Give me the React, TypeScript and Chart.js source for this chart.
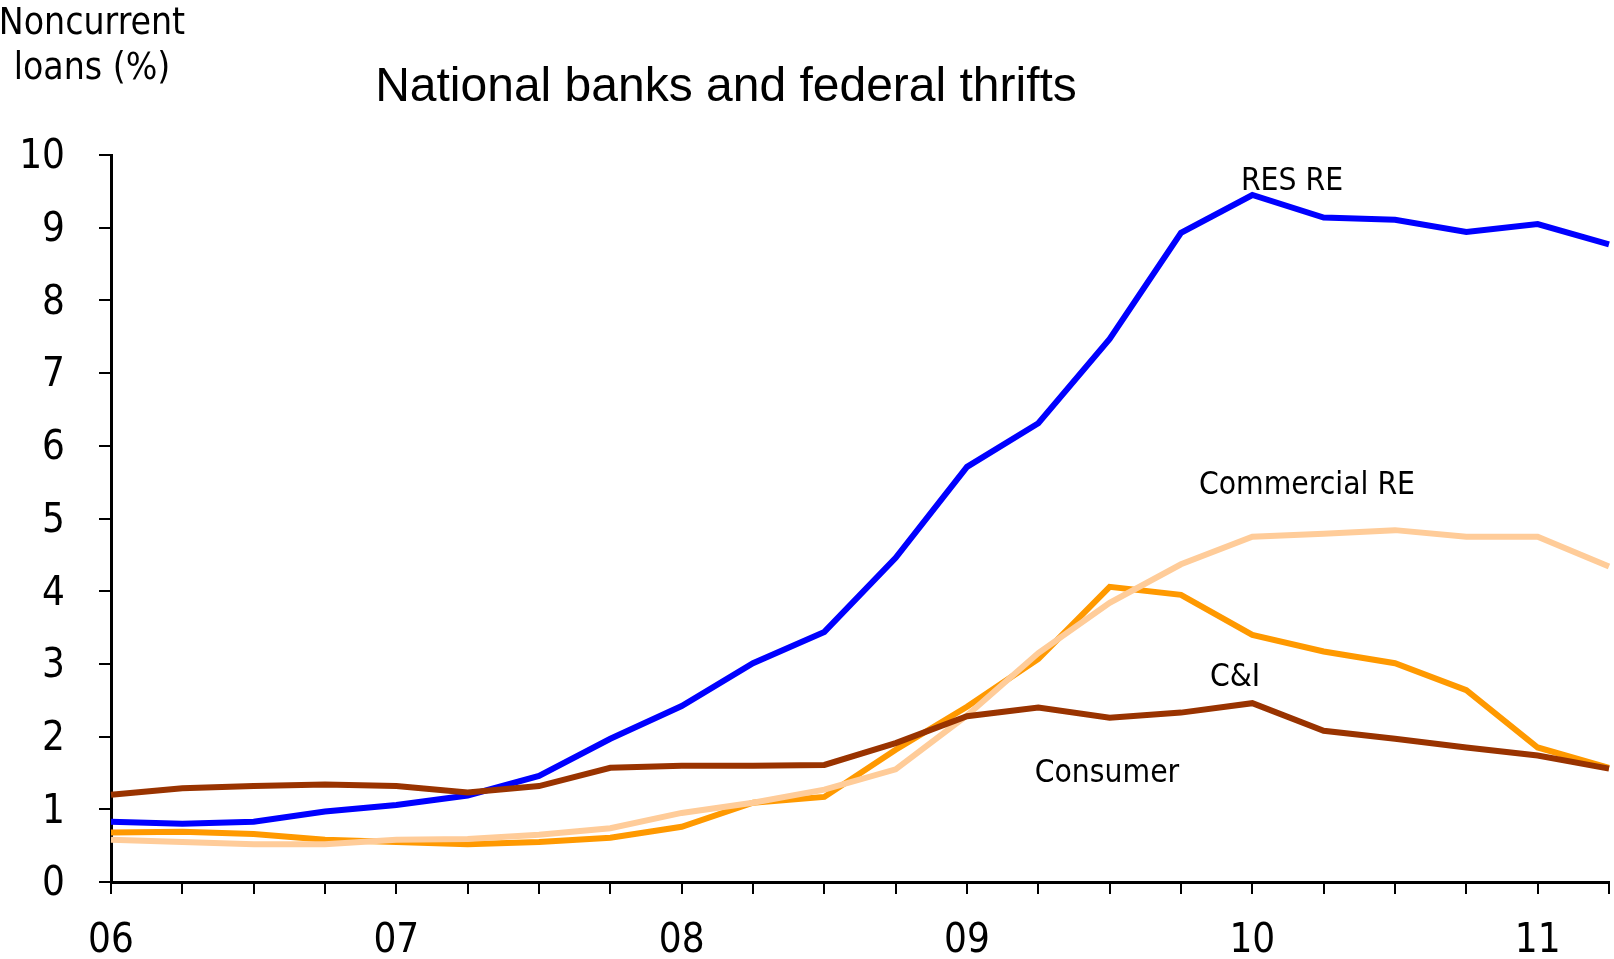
import React, { useEffect, useRef } from 'react';
import { Chart, registerables } from 'chart.js';

Chart.register(...registerables);

const quarters = [
  '06Q1', '06Q2', '06Q3', '06Q4',
  '07Q1', '07Q2', '07Q3', '07Q4',
  '08Q1', '08Q2', '08Q3', '08Q4',
  '09Q1', '09Q2', '09Q3', '09Q4',
  '10Q1', '10Q2', '10Q3', '10Q4',
  '11Q1', '11Q2',
];

const resRE = [0.83, 0.8, 0.83, 0.97, 1.06, 1.19, 1.46, 1.97, 2.42, 3.01, 3.44, 4.46, 5.71, 6.31, 7.47, 8.93, 9.45, 9.14, 9.11, 8.94, 9.05, 8.77];
const commercialRE = [0.58, 0.55, 0.52, 0.52, 0.58, 0.59, 0.65, 0.74, 0.95, 1.09, 1.27, 1.55, 2.29, 3.15, 3.84, 4.37, 4.75, 4.79, 4.84, 4.75, 4.75, 4.34];
const cAndI = [0.68, 0.69, 0.66, 0.58, 0.55, 0.52, 0.55, 0.61, 0.76, 1.09, 1.17, 1.82, 2.41, 3.07, 4.06, 3.95, 3.4, 3.17, 3.01, 2.64, 1.85, 1.57];
const consumer = [1.2, 1.29, 1.32, 1.34, 1.32, 1.23, 1.32, 1.57, 1.6, 1.6, 1.61, 1.91, 2.28, 2.4, 2.26, 2.33, 2.46, 2.08, 1.97, 1.85, 1.74, 1.56];

const yTicks = [0, 1, 2, 3, 4, 5, 6, 7, 8, 9, 10];

const seriesNames = ['RES RE', 'Commercial RE', 'C&I', 'Consumer'];

const LABEL_FONT = '"DejaVu Sans Condensed", "DejaVu Sans", sans-serif';

const textPlugin = {
  id: 'texts',
  afterDraw(chart: any) {
    const ctx = chart.ctx as CanvasRenderingContext2D;
    ctx.save();
    ctx.fillStyle = '#000';
    ctx.textAlign = 'center';
    ctx.textBaseline = 'middle';
    ctx.font = '48px "Liberation Sans", Arial, sans-serif';
    ctx.fillText('National banks and federal thrifts', 726, 88);
    ctx.font = '37px ' + LABEL_FONT;
    ctx.fillText('Noncurrent', 92, 24);
    ctx.fillText('loans (%)', 92, 69);
    ctx.font = '31.5px ' + LABEL_FONT;
    ctx.fillText(seriesNames[0], 1292, 182);
    ctx.fillText(seriesNames[1], 1307, 486);
    ctx.fillText(seriesNames[2], 1235, 678);
    ctx.fillText(seriesNames[3], 1107, 774);
    ctx.restore();
  },
};

export default function App() {
  const ref = useRef<HTMLCanvasElement>(null);
  useEffect(() => {
    document.body.style.margin = '0';
    const mk = (label: string, data: number[], color: string) => ({
      label,
      data,
      borderColor: color,
      backgroundColor: color,
      borderWidth: 6,
      pointRadius: 0,
      tension: 0,
      fill: false,
      borderJoinStyle: 'miter' as const,
    });
    const chart = new Chart(ref.current!, {
      type: 'line',
      data: {
        labels: quarters,
        datasets: [
          mk(seriesNames[3], consumer, '#993300'),
          mk(seriesNames[1], commercialRE, '#FFCC99'),
          mk(seriesNames[2], cAndI, '#FF9900'),
          mk(seriesNames[0], resRE, '#0000FF'),
        ],
      },
      options: {
        responsive: false,
        animation: false,
        layout: { padding: { top: 155, right: 5, left: 0, bottom: 0 } },
        plugins: { legend: { display: false }, title: { display: false }, tooltip: { enabled: false } },
        scales: {
          x: {
            type: 'category',
            offset: false,
            afterFit: (s: any) => { s.height = 77; s.paddingRight = 0; s.paddingLeft = 0; },
            grid: { display: true, drawOnChartArea: false, drawTicks: true, tickLength: 12, color: '#000', lineWidth: 2 },
            border: { display: true, color: '#000', width: 3 },
            ticks: {
              autoSkip: false,
              maxRotation: 0,
              minRotation: 0,
              padding: 24,
              color: '#000',
              font: { family: LABEL_FONT, size: 40 },
              callback: (_v: any, i: number) => (quarters[i].endsWith('Q1') ? quarters[i].slice(0, 2) : ''),
            },
          },
          y: {
            min: yTicks[0],
            max: yTicks[yTicks.length - 1],
            afterFit: (s: any) => { s.width = 111; },
            afterBuildTicks: (s: any) => { s.ticks = yTicks.map((v) => ({ value: v })); },
            grid: { display: true, drawOnChartArea: false, drawTicks: true, tickLength: 12, color: '#000', lineWidth: 2 },
            border: { display: true, color: '#000', width: 3 },
            ticks: {
              padding: 34,
              labelOffset: 3,
              color: '#000',
              font: { family: LABEL_FONT, size: 40 },
              callback: (v: any) => String(v),
            },
          },
        },
      },
      plugins: [textPlugin],
    });
    return () => chart.destroy();
  }, []);
  return (
    <div style={{ width: 1614, height: 959, background: '#fff' }}>
      <canvas ref={ref} width={1614} height={959} style={{ display: 'block' }} />
    </div>
  );
}
